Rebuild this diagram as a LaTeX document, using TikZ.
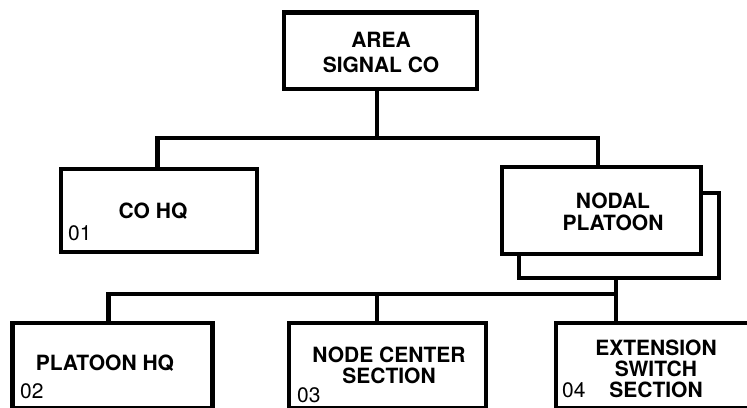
\documentclass[tikz,border=0pt]{standalone}
\usepackage{fontspec}
\setmainfont{TeX Gyre Heros}
\begin{document}
\begin{tikzpicture}[x=1pt,y=-1pt,
  box/.style={draw=black,fill=white,line width=4.5pt,rectangle,inner sep=0pt},
  conn/.style={draw=black,line width=4.5pt},
  lbl/.style={font=\fontsize{21}{21}\selectfont\bfseries,align=center,inner sep=0pt,anchor=north},
  num/.style={font=\fontsize{21}{21}\selectfont,inner sep=0pt,anchor=base west}]
\useasboundingbox (0,0) rectangle (747,407);
\clip (0,0) rectangle (747,407);
% boxes
\node[box,minimum width=193pt,minimum height=76.5pt] (top) at (380.5,50.75) {};
\node[box,minimum width=196pt,minimum height=83pt] (cohq) at (159,210.5) {};
\node[box,minimum width=200pt,minimum height=85pt] (nodalback) at (619,235.5) {};
\node[box,minimum width=199pt,minimum height=87pt] (nodal) at (601.5,210.5) {};
\node[box,minimum width=200pt,minimum height=85.5pt] (phq) at (112.5,365.75) {};
\node[box,minimum width=197pt,minimum height=85.5pt] (ncs) at (387.5,365.75) {};
\node[box,minimum width=200pt,minimum height=85.5pt] (ess) at (656,365.75) {};
% junction coordinates
\coordinate (j1) at (377,138);
\coordinate (xn) at (598,138);
\coordinate (j2) at (616,294);
\coordinate (xp) at (108.5,294);
\coordinate (xc) at (377,294);
% connectors
\draw[conn] (top.south -| j1) -- (j1);
\draw[conn] (cohq.north -| 157.5,0) |- (xn) -- (nodal.north -| xn);
\draw[conn] (nodalback.south -| j2) -- (j2);
\draw[conn] (phq.north -| xp) -- (xp) -- (j2);
\draw[conn] (ncs.north -| xc) -- (xc);
\draw[conn] (ess.north -| j2) -- (j2);
% labels
\node[lbl,font=\fontsize{21}{25}\selectfont\bfseries] (tA) at (381,32) {AREA\\SIGNAL CO};
\node[lbl] (tB) at (153,203) {CO HQ};
\node[lbl,font=\fontsize{21}{22}\selectfont\bfseries] (tC) at (613,193) {NODAL\\PLATOON};
\node[lbl] (tD) at (105,355) {PLATOON HQ};
\node[lbl] (tE) at (389,347) {NODE CENTER\\SECTION};
\node[lbl] (tF) at (656,340) {EXTENSION\\SWITCH\\SECTION};
\node[num] (n1) at (68,240) {01};
\node[num] (n2) at (20,398) {02};
\node[num] (n3) at (297,402) {03};
\node[num] (n4) at (562,397) {04};
\end{tikzpicture}
\end{document}
